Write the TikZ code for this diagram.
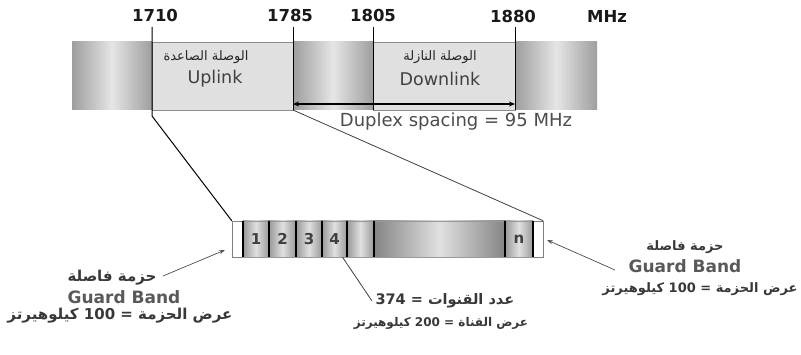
\documentclass[tikz,border=0pt]{standalone}
\usepackage{fontspec}
\setmainfont{DejaVu Sans}
\newfontfamily\arabicfont[Script=Arabic]{DejaVu Sans}
\TeXXeTstate=1
\usetikzlibrary{arrows.meta}
\definecolor{bandlight}{gray}{0.88}
\definecolor{bandedge}{gray}{0.62}
\definecolor{bandmid}{gray}{0.90}
\definecolor{celledge}{gray}{0.60}
\definecolor{cellmid}{gray}{0.88}
\begin{document}
\begin{tikzpicture}[x=1pt,y=-1pt,
  freq/.style={font=\bfseries\fontsize{16.5}{16.5}\selectfont,text=black!90},
  lbl/.style={font=\fontsize{17.5}{17.5}\selectfont,text=black!75},
  ar/.style={font=\arabicfont\bfseries\fontsize{15}{15}\selectfont,text=black!78},
  artop/.style={font=\arabicfont\fontsize{13}{13}\selectfont,text=black!85},
  gb/.style={font=\bfseries\fontsize{17}{17}\selectfont,text=black!65},
  grad/.style={left color=bandedge,right color=bandedge,middle color=bandmid},
  lightbox/.style={draw=black!45,fill=bandlight},
  cell/.style={draw=black!40,left color=celledge,right color=celledge,middle color=cellmid,
    minimum height=36pt,inner sep=0pt,font=\bfseries\fontsize{15}{15}\selectfont,text=black!75},
  guard/.style={draw=black!50,fill=white,minimum height=36pt,inner sep=0pt},
  freqline/.style={line width=1pt,black},
  conn/.style={line width=0.8pt,black!75},
  arr/.style={line width=0.7pt,black!70,-{Stealth[length=6pt,width=4pt]}},
]
\useasboundingbox (0,0) rectangle (801,355);
% ---- top band
\shade[grad] (72,42) rectangle (152,110);
\shade[grad] (293,42) rectangle (373,110);
\shade[grad] (515,42) rectangle (597,110);
\draw[lightbox] (152,42) rectangle (293,110);
\draw[lightbox] (373,42) rectangle (515,110);
% frequency labels
\node[freq] (f1710) at (155,15) {1710};
\node[freq] (f1785) at (290,15) {1785};
\node[freq] (f1805) at (373,15) {1805};
\node[freq] (f1880) at (513,16) {1880};
\node[freq] (fmhz) at (607,16) {MHz};
% band labels
\node[artop] (uplar) at (206,57) {\beginR الوصلة الصاعدة\endR};
\node[lbl] (upl) at (215,79) {Uplink};
\node[artop] (dnlar) at (440,57) {\beginR الوصلة النازلة\endR};
\node[lbl] (dnl) at (440,79) {Downlink};
% frequency lines
\coordinate (t1710) at (152,27); \coordinate (b1710) at (152,116);
\coordinate (t1785) at (293,27); \coordinate (b1785) at (293,110);
\coordinate (t1805) at (373,27); \coordinate (b1805) at (373,110);
\coordinate (t1880) at (515,27); \coordinate (b1880) at (515,110);
\draw[freqline] (t1805) -- (b1805);
\draw[freqline] (t1880) -- (b1880);
% duplex arrow
\coordinate (d1) at (293,104); \coordinate (d2) at (515,104);
\draw[line width=1.1pt,{Stealth[length=6pt,width=5pt]}-{Stealth[length=6pt,width=5pt]}] (d1) -- (d2);
\node[lbl,text=black!70,font=\fontsize{18}{18}\selectfont] (duplex) at (456,122) {Duplex spacing = 95 MHz};
% ---- channel strip
\node[draw=black!50,minimum width=311pt,minimum height=36pt,inner sep=0pt] (strip) at (387.5,239) {};
\node[guard,minimum width=11pt] (gl) at (237.5,239) {};
\node[cell,minimum width=26pt] (c1) at (256,239) {1};
\node[cell,minimum width=27pt] (c2) at (282.5,239) {2};
\node[cell,minimum width=26pt] (c3) at (309,239) {3};
\node[cell,minimum width=25pt] (c4) at (334.5,239) {4};
\node[cell,minimum width=27pt] (c5) at (360.5,239) {};
\node[cell,minimum width=131pt,left color=black!48,right color=black!48,middle color=black!12] (cmid) at (439.5,239) {};
\node[cell,minimum width=28pt] (cn) at (519,239) {n};
\node[guard,minimum width=10pt] (gr) at (538,239) {};
\foreach \c in {c1,c2,c3,c4,c5,cmid,cn,gr}
  \draw[line width=1.6pt,black] (\c.north west) -- (\c.south west);
% connectors from band to strip
\draw[freqline] (t1710) -- (b1710) -- (gl.north west);
\draw[freqline] (t1785) -- (b1785);
\draw[conn] (b1785) -- (gr.north east);
% ---- left guard band
\node[ar] (glar) at (112,278) {\beginR حزمة فاصلة\endR};
\node[gb] (glgb) at (124,297) {Guard Band};
\node[ar] (glw) at (120,316) {\beginR عرض الحزمة = {\bfseries\rmfamily 100} كيلوهيرتز\endR};
\coordinate (glt) at (225,250);
\draw[arr] ([xshift=3pt,yshift=2pt]glar.east) -- (glt);
% ---- right guard band
\node[ar,font=\arabicfont\bfseries\fontsize{13}{13}\selectfont] (grar) at (685,247) {\beginR حزمة فاصلة\endR};
\node[gb] (grgb) at (685,266) {Guard Band};
\node[ar,font=\arabicfont\bfseries\fontsize{13}{13}\selectfont] (grw) at (700,289) {\beginR عرض الحزمة = {\bfseries\rmfamily 100} كيلوهيرتز\endR};
\coordinate (grs) at (615,270);
\coordinate (grt) at (547,240);
\draw[arr] (grs) -- (grt);
% ---- channel info
\node[ar,font=\arabicfont\bfseries\fontsize{14.5}{14.5}\selectfont,anchor=west] (ch1) at (372,301) {\beginR عدد القنوات = {\bfseries\rmfamily 374}\endR};
\node[ar,font=\arabicfont\bfseries\fontsize{12}{12}\selectfont] (ch2) at (441,323) {\beginR عرض القناة = {\bfseries\rmfamily 200} كيلوهيرتز\endR};
\draw[conn] ([xshift=8pt]c4.south) -- (ch1.west);
\end{tikzpicture}
\end{document}
